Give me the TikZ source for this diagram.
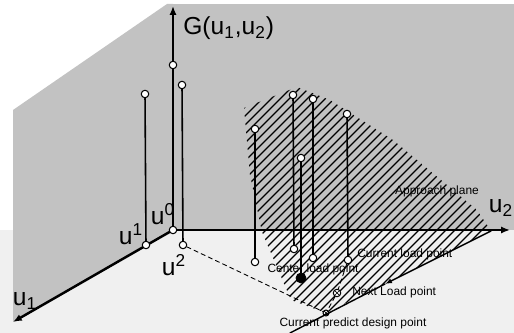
\documentclass[tikz,border=0pt]{standalone}
\usepackage{fontspec}
\setmainfont{Liberation Sans}
\usepackage{xcolor}
\usepackage{tikz}
\usetikzlibrary{arrows.meta,calc}

\definecolor{wallgray}{HTML}{C2C2C2}
\definecolor{floorgray}{HTML}{F0F0F0}

\begin{document}
\begin{tikzpicture}[
  x=0.02cm, y=-0.02cm,
  >={Latex[length=5pt,width=4pt]},
  line cap=round,
  line join=round,
  wall/.style={fill=wallgray},
  floorpart/.style={fill=floorgray},
  axis/.style={->, line width=1.4pt},
  stem/.style={line width=0.9pt},
  hatchline/.style={line width=0.8pt},
  guide/.style={dashed, dash pattern=on 2.5pt off 2pt, line width=0.5pt},
  edge/.style={line width=0.8pt},
  sample/.style={circle, draw, fill=white, line width=0.6pt, inner sep=0pt, minimum size=0.15cm},
  loadpt/.style={circle, draw, fill=black, inner sep=0pt, minimum size=0.2cm},
  crossmark/.style={sample, path picture={
      \draw[line width=0.4pt] (path picture bounding box.north west) -- (path picture bounding box.south east)
        (path picture bounding box.north east) -- (path picture bounding box.south west);}},
  axlabel/.style={font=\fontsize{14}{16}\selectfont, inner sep=0pt},
  ptlabel/.style={font=\fontsize{6.8}{8}\selectfont, inner sep=0pt}
]
\useasboundingbox (0,0) rectangle (514,333);

% walls and floor
\path[floorpart] (0,230) rectangle (514,333);
\path[wall] (13,110) -- (167,4) -- (173,4) -- (173,230) -- (13,322) -- cycle;
\path[wall] (173,4) rectangle (514,230);

% approach plane, hatched
\begin{scope}
  \clip (244,108) -- (297,87) -- (330,100) -- (393,140) -- (477,210) -- (491,231)
    -- (326,313) -- (291,300) -- (262,232) -- (250,175) -- cycle;
  \foreach \c in {352,361,...,730}{
    \draw[hatchline] ({\c-340},340) -- (\c,0);
  }
\end{scope}

% axes
\coordinate (O) at (173,230);
\coordinate (Gtip) at (173,6);
\coordinate (u1tip) at (13,322);
\coordinate (u2tip) at (510,230);
\draw[axis] (O) -- (Gtip);
\draw[axis] (O) -- (u1tip);
\draw[axis] (O) -- (u2tip);

% sampling points on the axes
\node[sample] (u0) at (173,230) {};
\node[sample] (u1pt) at (146,245) {};
\node[sample] (u2pt) at (183,245) {};
\node[sample] (g0) at (173,65) {};
\node[sample] (g1) at (145,94) {};
\node[sample] (g2) at (182,85) {};
\draw[stem] (g1) -- (u1pt);
\draw[stem] (g2) -- (u2pt);

% points of the approach plane
\node[sample] (a1) at (255,129) {};
\node[sample] (a2) at (293,95) {};
\node[sample] (a3) at (313,99) {};
\node[sample] (a4) at (347,114) {};
\node[sample] (a5) at (301,158) {};
\node[sample] (b1) at (255,262) {};
\node[sample] (b2) at (294,249) {};
\node[sample] (b3) at (313,258) {};
\node[sample] (cur) at (348,260) {};
\node[loadpt] (ctr) at (301,278) {};
\node[crossmark] (next) at (337,293) {};
\node[crossmark, minimum size=0.12cm] (dpt) at (326,313) {};
\draw[stem] (a1) -- (b1);
\draw[stem] (a2) -- (b2);
\draw[stem] (a3) -- (b3);
\draw[stem] (a4) -- (cur);
\draw[stem] (a5) -- (ctr);

% search directions
\draw[guide] (u2pt) -- (dpt);
\draw[guide] (cur) -- (next) -- (dpt);
\coordinate (rc) at (491,231);
\coordinate (mid) at (385,284);
\coordinate (lo) at (290,333);
\draw[edge, -{Latex[length=4pt,width=3pt]}] (rc) -- (mid);
\draw[edge] (mid) -- (lo);

% labels
\node[axlabel, anchor=west] (glab) at (183,28) {G(u\textsubscript{1},u\textsubscript{2})};
\node[axlabel] (u1lab) at (25,301) {u\textsubscript{1}};
\node[axlabel] (u2lab) at (501,208) {u\textsubscript{2}};
\node[axlabel] (u0lab) at (163,214) {u\textsuperscript{0}};
\node[axlabel] (u1suplab) at (131,234) {u\textsuperscript{1}};
\node[axlabel] (u2suplab) at (174,265) {u\textsuperscript{2}};
\node[ptlabel] (aplab) at (437,191) {Approach plane};
\node[ptlabel, anchor=west] (curlab) at (357,254) {Current load point};
\node[ptlabel] (ctrlab) at (313,269) {Center load point};
\node[ptlabel, anchor=west] (nextlab) at (352,292) {Next Load point};
\node[ptlabel] (dptlab) at (353,323) {Current predict design point};
\end{tikzpicture}
\end{document}
